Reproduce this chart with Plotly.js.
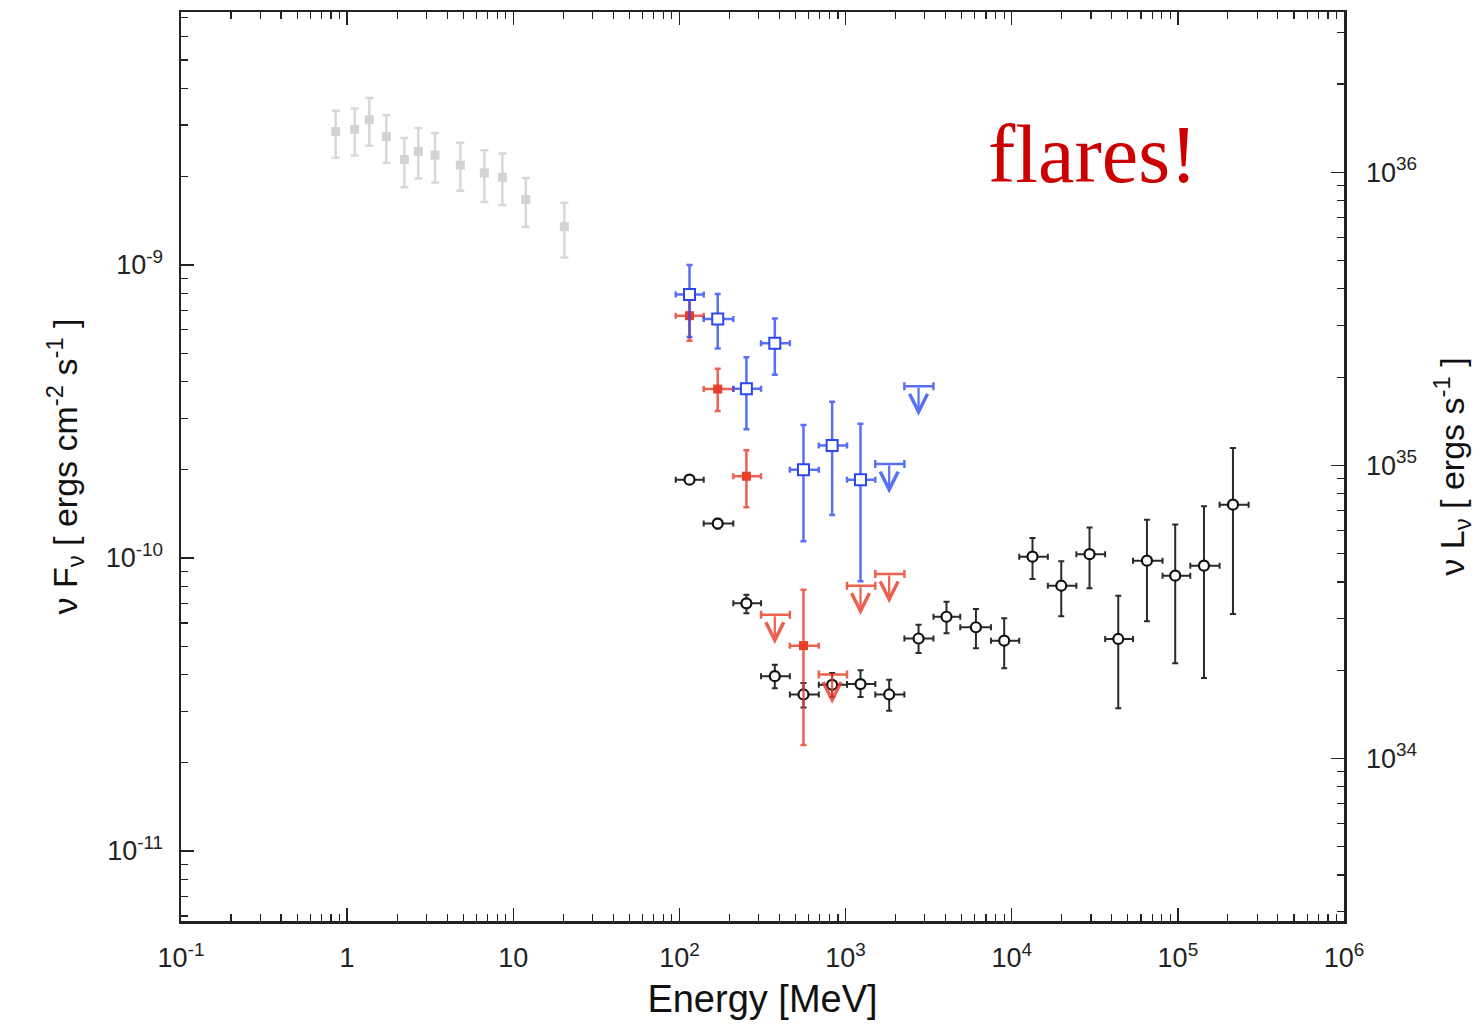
<!DOCTYPE html>
<html>
<head>
<meta charset="utf-8">
<script src="https://cdn.plot.ly/plotly-3.0.1.min.js"></script>
<style>html,body{margin:0;padding:0;background:#fff;} #chart{width:1476px;height:1027px;}</style>
</head>
<body>
<div id="chart"></div>
<script>
// ---------- DATA (energies in MeV, nuFnu in erg cm^-2 s^-1) ----------
// Low-energy (gray) points
const grayE   = [0.853, 1.11, 1.36, 1.72, 2.21, 2.68, 3.38, 4.80, 6.70, 8.60, 11.9, 20.3];
const grayF   = [2.85e-9, 2.90e-9, 3.13e-9, 2.74e-9, 2.29e-9, 2.44e-9, 2.37e-9, 2.19e-9, 2.06e-9, 1.99e-9, 1.67e-9, 1.35e-9];
const grayHi  = [3.36e-9, 3.42e-9, 3.71e-9, 3.24e-9, 2.71e-9, 2.93e-9, 2.82e-9, 2.61e-9, 2.46e-9, 2.40e-9, 1.98e-9, 1.63e-9];
const grayLo  = [2.32e-9, 2.36e-9, 2.55e-9, 2.23e-9, 1.84e-9, 1.97e-9, 1.91e-9, 1.79e-9, 1.64e-9, 1.60e-9, 1.35e-9, 1.06e-9];

// Black open points (average spectrum)
const blackE   = [115, 170, 253, 375, 558, 830, 1230, 1830, 2750, 4050, 6090, 9010, 13340, 19870, 29400, 43780, 65150, 96400, 143600, 214600];
const blackELo = [95, 140, 211, 310, 462, 690, 1020, 1510, 2260, 3380, 4900, 7500, 11100, 16500, 24500, 36500, 53700, 80900, 118800, 178300];
const blackEHi = [140, 211, 310, 462, 690, 1020, 1510, 2260, 3380, 4900, 7500, 11100, 16500, 24500, 36500, 53700, 80900, 118800, 178300, 266600];
const blackF   = [1.85e-10, 1.31e-10, 7.00e-11, 3.95e-11, 3.42e-11, 3.69e-11, 3.71e-11, 3.42e-11, 5.31e-11, 6.30e-11, 5.80e-11, 5.22e-11, 1.01e-10, 8.04e-11, 1.03e-10, 5.29e-11, 9.79e-11, 8.70e-11, 9.41e-11, 1.52e-10];
const blackHi  = [1.91e-10, 1.36e-10, 7.49e-11, 4.32e-11, 3.74e-11, 4.05e-11, 4.14e-11, 3.84e-11, 5.92e-11, 7.08e-11, 6.70e-11, 6.22e-11, 1.17e-10, 9.74e-11, 1.27e-10, 7.43e-11, 1.35e-10, 1.30e-10, 1.50e-10, 2.37e-10];
const blackLo  = [1.79e-10, 1.26e-10, 6.48e-11, 3.59e-11, 3.09e-11, 3.35e-11, 3.35e-11, 3.01e-11, 4.74e-11, 5.53e-11, 4.92e-11, 4.20e-11, 8.48e-11, 6.32e-11, 7.88e-11, 3.07e-11, 6.08e-11, 4.37e-11, 3.89e-11, 6.44e-11];

// Blue open squares (flare 1)
const blueE   = [115, 170, 253, 375, 558, 830, 1230];
const blueELo = [95, 140, 211, 310, 462, 690, 1020];
const blueEHi = [140, 211, 310, 462, 690, 1020, 1510];
const blueF   = [7.92e-10, 6.54e-10, 3.78e-10, 5.40e-10, 2.00e-10, 2.42e-10, 1.85e-10];
const blueHi  = [1.00e-9, 7.96e-10, 4.84e-10, 6.56e-10, 2.84e-10, 3.41e-10, 2.87e-10];
const blueLo  = [5.67e-10, 5.18e-10, 2.75e-10, 4.22e-10, 1.14e-10, 1.40e-10, 8.33e-11];
// Blue upper limits
const blueUlE   = [1830, 2750];
const blueUlELo = [1510, 2260];
const blueUlEHi = [2260, 3380];
const blueUlF   = [2.09e-10, 3.85e-10];

// Red filled squares (flare 2)
const redE   = [115, 170, 253, 558];
const redELo = [95, 140, 211, 462];
const redEHi = [140, 211, 310, 690];
const redF   = [6.71e-10, 3.77e-10, 1.90e-10, 5.02e-11];
const redHi  = [8.02e-10, 4.42e-10, 2.33e-10, 7.79e-11];
const redLo  = [5.51e-10, 3.17e-10, 1.49e-10, 2.30e-11];
// Red upper limits
const redUlE   = [375, 830, 1230, 1830];
const redUlELo = [310, 690, 1020, 1510];
const redUlEHi = [462, 1020, 1510, 2260];
const redUlF   = [6.40e-11, 4.00e-11, 8.04e-11, 8.82e-11];

// Tick labels
const xTickVals = [0.1, 1, 10, 100, 1e3, 1e4, 1e5, 1e6];
const xTickText = ['10<sup>-1</sup>', '1', '10', '10<sup>2</sup>', '10<sup>3</sup>', '10<sup>4</sup>', '10<sup>5</sup>', '10<sup>6</sup>'];
const yTickVals = [1e-11, 1e-10, 1e-9];
const yTickText = ['10<sup>-11</sup>', '10<sup>-10</sup>', '10<sup>-9</sup>'];
const y2TickVals = [1e34, 1e35, 1e36];
const y2TickText = ['10<sup>34</sup>', '10<sup>35</sup>', '10<sup>36</sup>'];

// ---------- HELPERS ----------
const sub = (a, b) => a.map((v, i) => v - b[i]);
function minorVals(lo, hi) {
  const out = [];
  for (let d = lo; d <= hi; d++) for (let m = 2; m <= 9; m++) out.push(m * Math.pow(10, d));
  return out;
}
function pointTrace(x, xlo, xhi, y, ylo, yhi, marker, ecolor, eThick, eWidth) {
  const t = {
    type: 'scatter', mode: 'markers', x: x, y: y, marker: marker, showlegend: false,
    error_y: {type: 'data', symmetric: false, array: sub(yhi, y), arrayminus: sub(y, ylo),
              color: ecolor, thickness: eThick, width: eWidth}
  };
  if (xlo) {
    t.error_x = {type: 'data', symmetric: false, array: sub(xhi, x), arrayminus: sub(x, xlo),
                 color: ecolor, thickness: eThick, width: eWidth};
  }
  return t;
}
function ulBarTrace(x, xlo, xhi, y, color) {
  return {
    type: 'scatter', mode: 'markers', x: x, y: y, showlegend: false,
    marker: {color: 'rgba(0,0,0,0)', size: 1},
    error_x: {type: 'data', symmetric: false, array: sub(xhi, x), arrayminus: sub(x, xlo),
              color: color, thickness: 2.5, width: 4}
  };
}
const ARROW_DROP = 0.1; // arrow length in decades (style)
function ulArrows(x, y, color) {
  return x.map((e, i) => ({
    xref: 'x', yref: 'y', axref: 'x', ayref: 'y',
    x: Math.log10(e), y: Math.log10(y[i]) - ARROW_DROP,
    ax: Math.log10(e), ay: Math.log10(y[i]),
    text: '', showarrow: true, arrowhead: 5, arrowsize: 1.6, arrowwidth: 2.2, arrowcolor: color,
    standoff: 0, startstandoff: 0
  }));
}

const BLUE = '#2a48f2';
const BLUE_E = 'rgba(42,72,242,0.78)';
const RED = '#ea3d2a';
const RED_E = 'rgba(234,61,42,0.82)';

const traces = [
  pointTrace(grayE, null, null, grayF, grayLo, grayHi,
    {symbol: 'square', size: 9, color: '#d3d3d3'}, '#d8d8d8', 2.5, 4),
  pointTrace(blackE, blackELo, blackEHi, blackF, blackLo, blackHi,
    {symbol: 'circle', size: 10, color: '#ffffff', line: {color: '#111111', width: 2.2}}, '#2a2a2a', 2, 3),
  pointTrace(redE, redELo, redEHi, redF, redLo, redHi,
    {symbol: 'square', size: 9, color: RED}, RED_E, 2.5, 3),
  ulBarTrace(redUlE, redUlELo, redUlEHi, redUlF, RED_E),
  pointTrace(blueE, blueELo, blueEHi, blueF, blueLo, blueHi,
    {symbol: 'square', size: 11, color: '#ffffff', line: {color: BLUE, width: 2}}, BLUE_E, 2.5, 3),
  ulBarTrace(blueUlE, blueUlELo, blueUlEHi, blueUlF, BLUE_E),
  {type: 'scatter', x: [], y: [], yaxis: 'y2', showlegend: false}
];

const tickFont = {family: 'Liberation Sans, Arial, sans-serif', size: 27, color: '#222'};
const axisLine = {showline: true, linecolor: '#222', linewidth: 2.5};

const layout = {
  width: 1476, height: 1027,
  paper_bgcolor: '#ffffff', plot_bgcolor: '#ffffff',
  margin: {l: 181, r: 132, t: 12, b: 106},
  showlegend: false,
  xaxis: Object.assign({
    type: 'log', range: [-1, 6], tickmode: 'array', tickvals: xTickVals, ticktext: xTickText,
    ticks: 'inside', ticklen: 13, tickwidth: 1.5, tickcolor: '#222', mirror: 'ticks',
    showgrid: false, zeroline: false, tickfont: tickFont, ticklabelstandoff: 11,
    minor: {tickmode: 'array', tickvals: minorVals(-1, 5), ticks: 'inside', ticklen: 7, tickwidth: 1.2, tickcolor: '#222', showgrid: false},
    title: {text: 'Energy [MeV]', font: {family: 'Liberation Sans, Arial, sans-serif', size: 38, color: '#111'}, standoff: 14}
  }, axisLine),
  yaxis: Object.assign({
    type: 'log', range: [-11.239, -8.137], tickmode: 'array', tickvals: yTickVals, ticktext: yTickText,
    ticks: 'inside', ticklen: 13, tickwidth: 1.5, tickcolor: '#222', mirror: true,
    showgrid: false, zeroline: false, tickfont: tickFont, ticklabelstandoff: 10,
    minor: {tickmode: 'array', tickvals: minorVals(-12, -9), ticks: 'inside', ticklen: 7, tickwidth: 1.2, tickcolor: '#222', showgrid: false},
    title: {text: 'ν F<sub>ν</sub> [ ergs cm<sup>-2</sup> s<sup>-1</sup> ]', font: {family: 'Liberation Sans, Arial, sans-serif', size: 34, color: '#111'}, standoff: 18}
  }, axisLine),
  yaxis2: Object.assign({
    type: 'log', range: [33.445, 36.547], overlaying: 'y', side: 'right', anchor: 'x',
    tickmode: 'array', tickvals: y2TickVals, ticktext: y2TickText,
    ticks: 'inside', ticklen: 13, tickwidth: 1.5, tickcolor: '#222',
    showgrid: false, zeroline: false, tickfont: tickFont, ticklabelstandoff: 14,
    minor: {tickmode: 'array', tickvals: minorVals(33, 36), ticks: 'inside', ticklen: 7, tickwidth: 1.2, tickcolor: '#222', showgrid: false},
    title: {text: 'ν L<sub>ν</sub> [ ergs s<sup>-1</sup> ]', font: {family: 'Liberation Sans, Arial, sans-serif', size: 34, color: '#111'}, standoff: 34}
  }, axisLine),
  annotations: [
    ...ulArrows(redUlE, redUlF, RED_E),
    ...ulArrows(blueUlE, blueUlF, BLUE_E),
    {xref: 'paper', yref: 'paper', x: 0.784, y: 0.843, xanchor: 'center', yanchor: 'middle',
     text: 'flares!', showarrow: false,
     font: {family: 'Liberation Serif, Times New Roman, serif', size: 82, color: '#cc0000'}}
  ]
};

Plotly.newPlot('chart', traces, layout, {displayModeBar: false, staticPlot: true});
</script>
</body>
</html>
